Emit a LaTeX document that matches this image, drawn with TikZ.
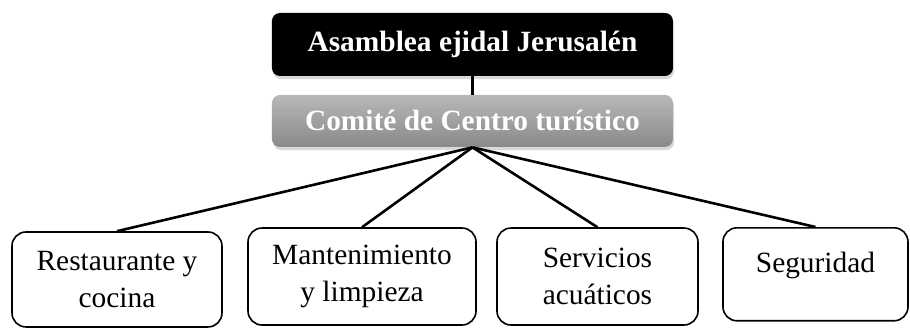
\documentclass[tikz,border=0pt]{standalone}
\usepackage{fontspec}
\setmainfont{Liberation Serif}
\usetikzlibrary{shadows}

\begin{document}
\begin{tikzpicture}[
  head/.style={rounded corners=4pt, minimum width=7.05cm, inner sep=0pt, text=white,
    font=\fontsize{14.7}{18}\selectfont\bfseries,
    drop shadow={opacity=.3, shadow xshift=.6pt, shadow yshift=-1.6pt}},
  area/.style={draw, line width=.8pt, rounded corners=7pt, fill=white, align=center,
    inner sep=0pt, font=\fontsize{14.7}{18.5}\selectfont},
  link/.style={line width=1.3pt}
]
\useasboundingbox (0,0) rectangle (16,5.767);

% organos de arriba
\node[head, fill=black, minimum height=1.108cm] (asamblea) at (8.307,4.985) {Asamblea ejidal Jerusalén};
\node[head, top color=black!28, bottom color=black!46, minimum height=0.914cm] (comite) at (8.307,3.640) {Comité de Centro turístico};

% areas
\node[area, minimum width=3.692cm, minimum height=1.670cm] (rest) at (2.057,0.853) {Restaurante y\\cocina};
\node[area, minimum width=4.009cm, minimum height=1.705cm] (mant) at (6.365,0.905) {Mantenimiento\\y limpieza};
\node[area, minimum width=3.534cm, minimum height=1.705cm] (serv) at (10.505,0.905) {Servicios\\acuáticos};
\node[area, minimum width=3.253cm, minimum height=1.635cm, text depth=12pt] (seg) at (14.338,0.944) {Seguridad};

\draw[line width=1.6pt] (asamblea) -- (comite);
\foreach \n in {rest,mant,serv,seg}
  \draw[link] (comite.south) -- (\n.north);
\end{tikzpicture}
\end{document}
